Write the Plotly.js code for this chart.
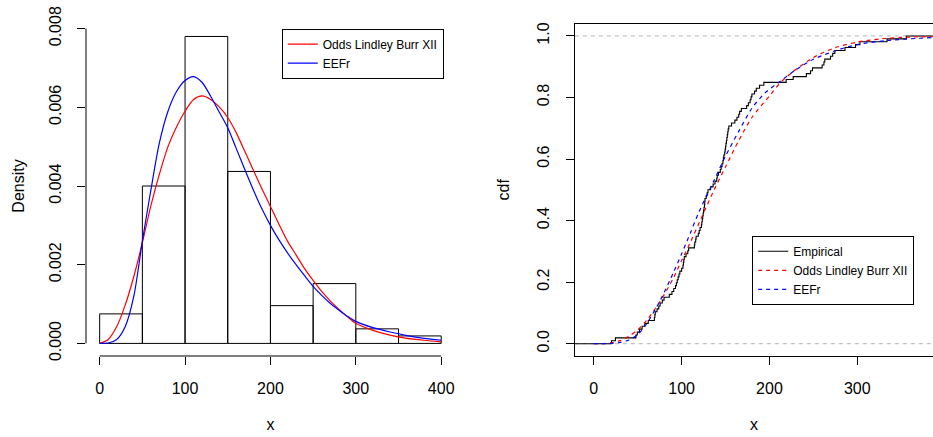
<!DOCTYPE html>
<html><head><meta charset="utf-8">
<script src="https://cdn.plot.ly/plotly-3.0.1.min.js"></script>
<style>html,body{margin:0;padding:0;background:#fff}#chart{width:933px;height:437px}</style>
</head><body><div id="chart"></div>
<script>
// ---------- data ----------
const binEdges = [0, 50, 100, 150, 200, 250, 300, 350, 400];
const histDensity = [0.00075, 0.0040, 0.0078, 0.00437, 0.00096, 0.00152, 0.00037, 0.00019];

const oddsPdfX = [0, 10, 20, 30, 40, 50, 60, 70, 80, 90, 100, 110, 120, 130, 140, 150, 160, 170, 180, 190, 200, 210, 220, 230, 240, 250, 260, 270, 280, 290, 300, 320, 340, 360, 380, 400];
const oddsPdf  = [0, 0.0001, 0.00043, 0.00098, 0.0017, 0.00256, 0.0035, 0.0043, 0.005, 0.0055, 0.0059, 0.0062, 0.00629, 0.0062, 0.00601, 0.00574, 0.00535, 0.00488, 0.0044, 0.00393, 0.00348, 0.00303, 0.0026, 0.00225, 0.0019, 0.0016, 0.00132, 0.00108, 0.00087, 0.00068, 0.00051, 0.00033, 0.00021, 0.00013, 0.00008, 0.00004];

const eefrPdfX = [0, 10, 20, 30, 40, 50, 60, 70, 80, 90, 100, 110, 120, 130, 140, 150, 160, 170, 180, 190, 200, 210, 220, 230, 240, 250, 260, 270, 280, 290, 300, 320, 340, 360, 380, 400];
const eefrPdf  = [0, 0.00001, 0.0001, 0.00043, 0.0012, 0.0026, 0.0039, 0.0051, 0.0059, 0.0064, 0.00668, 0.00678, 0.00663, 0.00628, 0.00588, 0.00548, 0.00495, 0.00442, 0.0039, 0.00342, 0.0030, 0.00263, 0.0023, 0.002, 0.00172, 0.00145, 0.00122, 0.00102, 0.00085, 0.00069, 0.00056, 0.0004, 0.00029, 0.0002, 0.00013, 0.00008];

const sample = [20.1, 24.6, 48, 49.5, 52, 55, 58, 62, 69, 69.5, 70, 72, 74, 75.5, 78, 80, 86, 89, 91, 93, 94, 95, 96, 97, 98,
  100, 101.5, 102, 102.5, 103, 105, 107, 108, 114.5, 115, 116, 116.5, 119, 120, 121, 122.5, 123, 123.5, 124, 124.5, 125, 125.5, 126, 126.3, 126.6,
  128, 129, 130, 133, 135.8, 138, 140, 140.5, 142, 144, 145, 146, 147, 147.5, 148, 149, 149.5,
  150, 150.5, 151, 151.5, 152, 152.5, 153, 153.7, 156.8, 160.6, 163, 165, 166, 168, 174, 176, 178, 179, 180, 183, 185, 188.7, 193.6,
  219, 227, 242, 246.8, 249, 260, 262, 263, 269.5, 272, 274.5, 286, 298, 303, 333.8, 355.8];

const oddsCdfX = [0, 10, 20, 30, 40, 50, 60, 75, 90, 100, 110, 125, 137, 150, 165, 180, 200, 212, 225, 250, 275, 300, 325, 350, 386];
const oddsCdf  = [0, 0.0005, 0.003, 0.01, 0.024, 0.045, 0.075, 0.135, 0.21, 0.27, 0.33, 0.425, 0.5, 0.575, 0.66, 0.735, 0.805, 0.847, 0.88, 0.93, 0.962, 0.98, 0.99, 0.995, 0.998];

const eefrCdfX = [0, 20, 30, 40, 50, 60, 75, 90, 100, 110, 120, 136, 150, 165, 180, 195, 212, 230, 250, 275, 300, 333, 386];
const eefrCdf  = [0, 0.001, 0.004, 0.012, 0.03, 0.064, 0.137, 0.227, 0.292, 0.36, 0.43, 0.525, 0.61, 0.69, 0.765, 0.815, 0.852, 0.89, 0.924, 0.952, 0.972, 0.985, 0.995];

const leftXTicks = [0, 100, 200, 300, 400];
const leftYTicks = [0, 0.002, 0.004, 0.006, 0.008];
const leftYLabels = ['0.000', '0.002', '0.004', '0.006', '0.008'];
const rightXTicks = [0, 100, 200, 300];
const rightYTicks = [0, 0.2, 0.4, 0.6, 0.8, 1.0];
const rightYLabels = ['0.0', '0.2', '0.4', '0.6', '0.8', '1.0'];

const seriesNames = ['Odds Lindley Burr XII', 'EEFr'];
const ecdfName = 'Empirical';

// ---------- build ----------
const FONT = 'Liberation Sans, Arial, Helvetica, sans-serif';
const leftXRange = [-16, 416];
const leftYRange = [-0.00032, 0.00832];
const rightXRange = [-21.6, 386.2];
const rightYRange = [-0.04, 1.04];

const mids = [], widths = [];
for (let i = 0; i < binEdges.length - 1; i++) {
  mids.push((binEdges[i] + binEdges[i + 1]) / 2);
  widths.push(binEdges[i + 1] - binEdges[i]);
}

const sorted = sample.slice().sort((a, b) => a - b);
const n = sorted.length;
const ecdfX = [rightXRange[0]].concat(sorted, [rightXRange[1]]);
const ecdfY = [0].concat(sorted.map((_, i) => (i + 1) / n), [1]);

const traces = [
  { type: 'bar', x: mids, y: histDensity, width: widths, xaxis: 'x', yaxis: 'y',
    marker: { color: 'rgba(255,255,255,0)', line: { color: '#000', width: 1 } },
    showlegend: false, hoverinfo: 'skip' },
  { type: 'scatter', mode: 'lines', x: oddsPdfX, y: oddsPdf, xaxis: 'x', yaxis: 'y',
    name: seriesNames[0], legend: 'legend', line: { color: '#FF0000', width: 1.2, shape: 'spline', smoothing: 0.8 } },
  { type: 'scatter', mode: 'lines', x: eefrPdfX, y: eefrPdf, xaxis: 'x', yaxis: 'y',
    name: seriesNames[1], legend: 'legend', line: { color: '#0000FF', width: 1.2, shape: 'spline', smoothing: 0.8 } },
  { type: 'scatter', mode: 'lines', x: ecdfX, y: ecdfY, xaxis: 'x2', yaxis: 'y2',
    name: ecdfName, legend: 'legend2', line: { color: '#000', width: 1.1, shape: 'hv' } },
  { type: 'scatter', mode: 'lines', x: oddsCdfX, y: oddsCdf, xaxis: 'x2', yaxis: 'y2',
    name: seriesNames[0], legend: 'legend2', line: { color: '#FF0000', width: 1.2, dash: '4px,4px', shape: 'spline', smoothing: 0.7 } },
  { type: 'scatter', mode: 'lines', x: eefrCdfX, y: eefrCdf, xaxis: 'x2', yaxis: 'y2',
    name: seriesNames[1], legend: 'legend2', line: { color: '#0000FF', width: 1.2, dash: '4px,4px', shape: 'spline', smoothing: 0.7 } }
];

const ML = 86.4, MR = 0, MT = 16.4, MB = 81.4;
const W = 933, H = 437;
const pw = W - ML - MR, ph = H - MT - MB;
const px = v => (v - ML) / pw;
const py = v => 1 - (v - MT) / ph;

const tickFont = { family: FONT, size: 16, color: '#000' };
const titleFont = { family: FONT, size: 16, color: '#000' };
const baseAxis = {
  ticks: 'outside', ticklen: 8, tickwidth: 1, tickcolor: '#000',
  showgrid: false, zeroline: false, tickfont: tickFont, fixedrange: true
};

const layout = {
  width: W, height: H,
  margin: { l: ML, r: MR, t: MT, b: MB, pad: 0 },
  paper_bgcolor: '#fff', plot_bgcolor: '#fff',
  font: { family: FONT, color: '#000' },
  bargap: 0,
  showlegend: true,
  xaxis: Object.assign({}, baseAxis, {
    domain: [0, px(455.1)], range: leftXRange, anchor: 'y',
    tickmode: 'array', tickvals: leftXTicks, ticktext: leftXTicks.map(String),
    showline: false, ticklabelstandoff: 10,
    title: { text: 'x', font: titleFont, standoff: 22 }
  }),
  yaxis: Object.assign({}, baseAxis, {
    domain: [0, 1], range: leftYRange, anchor: 'x',
    tickmode: 'array', tickvals: leftYTicks, ticktext: leftYLabels, tickangle: -90,
    showline: false, ticklabelstandoff: 10,
    title: { text: 'Density', font: titleFont, standoff: 17 }
  }),
  xaxis2: Object.assign({}, baseAxis, {
    domain: [px(575), 1], range: rightXRange, anchor: 'y2',
    tickmode: 'array', tickvals: rightXTicks, ticktext: rightXTicks.map(String),
    showline: true, linecolor: '#000', linewidth: 1, mirror: true, ticklabelstandoff: 10,
    title: { text: 'x', font: titleFont, standoff: 22 }
  }),
  yaxis2: Object.assign({}, baseAxis, {
    domain: [0, py(24)], range: rightYRange, anchor: 'x2',
    tickmode: 'array', tickvals: rightYTicks, ticktext: rightYLabels, tickangle: -90,
    showline: true, linecolor: '#000', linewidth: 1, mirror: false, ticklabelstandoff: 10,
    title: { text: 'cdf', font: titleFont, standoff: 21 }
  }),
  legend: {
    x: px(444), xanchor: 'right', y: py(29), yanchor: 'top',
    bordercolor: '#000', borderwidth: 1, bgcolor: '#fff',
    font: { family: FONT, size: 12, color: '#000' }
  },
  legend2: {
    x: px(752.3), xanchor: 'left', y: py(235.7), yanchor: 'top',
    bordercolor: '#000', borderwidth: 1, bgcolor: '#fff',
    font: { family: FONT, size: 12, color: '#000' }
  },
  shapes: [
    { type: 'line', xref: 'x', x0: leftXTicks[0], x1: leftXTicks[leftXTicks.length - 1],
      yref: 'y domain', y0: 0, y1: 0, line: { color: '#000', width: 1 } },
    { type: 'line', xref: 'x domain', x0: 0, x1: 0,
      yref: 'y', y0: leftYTicks[0], y1: leftYTicks[leftYTicks.length - 1], line: { color: '#000', width: 1 } },
    { type: 'line', xref: 'x2 domain', x0: 0, x1: 1, yref: 'y2', y0: rightYTicks[0], y1: rightYTicks[0],
      layer: 'below', line: { color: '#B3B3B3', width: 1, dash: '4px,4px' } },
    { type: 'line', xref: 'x2 domain', x0: 0, x1: 1, yref: 'y2', y0: rightYTicks[rightYTicks.length - 1], y1: rightYTicks[rightYTicks.length - 1],
      layer: 'below', line: { color: '#B3B3B3', width: 1, dash: '4px,4px' } }
  ]
};

Plotly.newPlot('chart', traces, layout, { displayModeBar: false, staticPlot: true });
</script>
</body></html>
